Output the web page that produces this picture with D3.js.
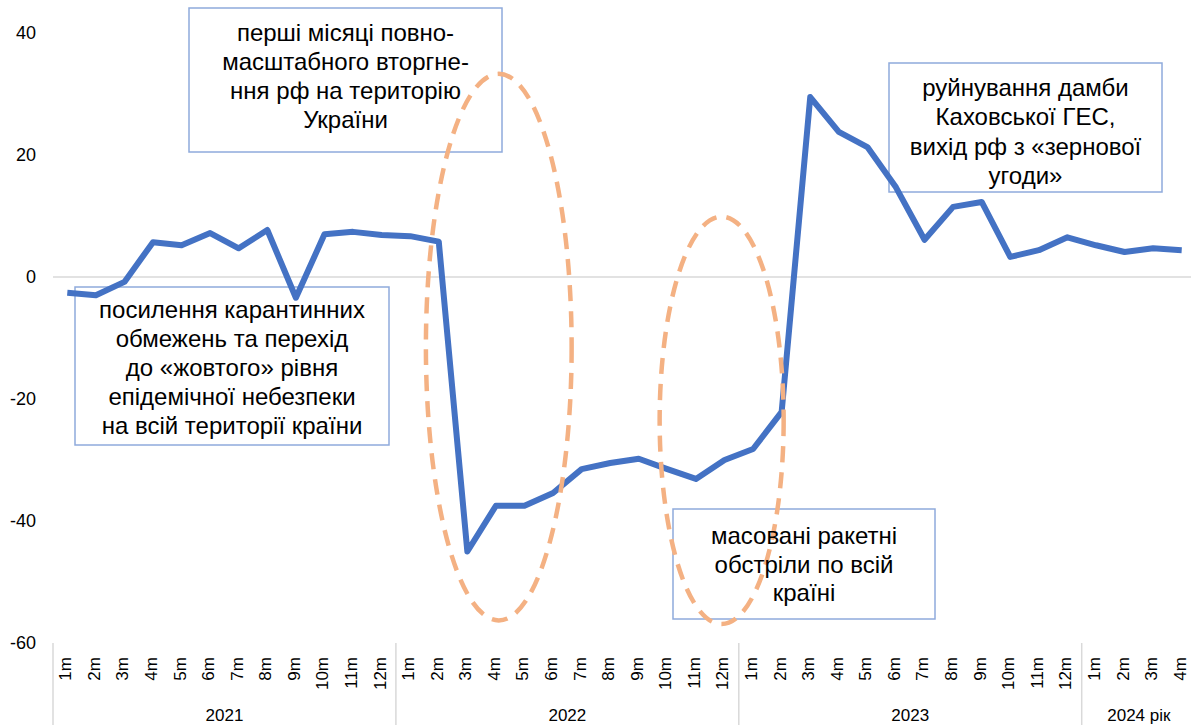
<!DOCTYPE html>
<html>
<head>
<meta charset="utf-8">
<script src="https://cdn.jsdelivr.net/npm/d3@7"></script>
<style>
  body { margin: 0; background: #fff; }
  text { font-family: Arial, "Liberation Sans", sans-serif; fill: #000; }
</style>
</head>
<body>
<div id="chart"></div>
<script>
// Data
var years = ["2021", "2022", "2023", "2024 рік"]
var monthsPerYear = [12, 12, 12, 4]
var values2021 = [-2.6, -3.0, -0.8, 5.7, 5.2, 7.2, 4.7, 7.7, -3.4, 7.0, 7.4, 6.9]
var values2022 = [6.7, 5.8, -45.0, -37.5, -37.5, -35.4, -31.5, -30.5, -29.8, -31.5, -33.1, -30.0]
var values2023 = [-28.2, -22.1, 29.5, 23.8, 21.3, 14.7, 6.1, 11.5, 12.3, 3.3, 4.4, 6.5]
var values2024 = [5.2, 4.1, 4.7, 4.4]
var yTicks = [40, 20, 0, -20, -40, -60]

var noteTexts = [
  ["перші місяці повно-", "масштабного вторгне-", "ння рф на територію", "України"],
  ["посилення карантинних", "обмежень та перехід", "до «жовтого» рівня", "епідемічної небезпеки", "на всій території країни"],
  ["руйнування дамби", "Каховської ГЕС,", "вихід рф з «зернової", "угоди»"],
  ["масовані ракетні", "обстріли по всій", "країні"]
]

// layout of the annotation boxes (px) and first text baseline
var noteBoxes = [
  {x: 189, y: 8, w: 313, h: 144, base: 41, lh: 29},
  {x: 75, y: 287, w: 314, h: 158, base: 318, lh: 29},
  {x: 889, y: 63, w: 273, h: 129, base: 96, lh: 29.3},
  {x: 673, y: 509, w: 262, h: 110, base: 544, lh: 28.7}
]
// dashed ellipses: centre in month index / value, radii in months / value units
var ovals = [
  {ci: 15.6, cv: -11.5, ri: 2.55, rv: 44.8},
  {ci: 23.4, cv: -23.5, ri: 2.17, rv: 33.4}
]

var series = values2021.concat(values2022, values2023, values2024)
var labels = []
monthsPerYear.forEach(function(n){
  for (var m = 1; m <= n; m++) labels.push(m + "m")
})

var width = 1191
var height = 725
var left = 53
var right = 1196
var top_y = 33
var bottom_y = 643

var svg = d3.select("#chart").append("svg")
    .attr("width", width)
    .attr("height", height)

var x = d3.scaleBand()
    .domain(d3.range(series.length))
    .range([left, right])
    .paddingInner(0).paddingOuter(0)

var xl = d3.scaleLinear()  // month index -> px, for separators / ovals
    .domain([0, series.length])
    .range([left, right])

var y = d3.scaleLinear()
    .domain([-60, 40])
    .range([bottom_y, top_y])

// zero line
svg.append("line")
    .attr("x1", left).attr("x2", width)
    .attr("y1", y(0)).attr("y2", y(0))
    .attr("stroke", "#d9d9d9").attr("stroke-width", 1.5)

// y axis labels (plain hyphen for minus, like the original)
var yAxis = d3.axisLeft(y).tickValues(yTicks).tickSize(0).tickPadding(0)
    .tickFormat(function(d){ return String(d) })
var gy = svg.append("g").attr("transform", "translate(36,0)").call(yAxis)
gy.select(".domain").remove()
gy.selectAll("text")
    .style("font-family", "Arial, 'Liberation Sans', sans-serif")
    .style("font-size", "18px")
    .attr("fill", "#000")

// x axis: month labels rotated
var xAxis = d3.axisBottom(x).tickFormat(function(d){ return labels[d] }).tickSize(0)
var gx = svg.append("g").attr("transform", "translate(0," + bottom_y + ")").call(xAxis)
gx.select(".domain").remove()
gx.selectAll("text")
    .attr("transform", "rotate(-90)")
    .attr("x", -14).attr("y", -2)
    .attr("dy", "0.35em")
    .attr("text-anchor", "end")
    .style("font-family", "Arial, 'Liberation Sans', sans-serif")
    .style("font-size", "17px")
    .attr("fill", "#000")

// year separators and year labels
var start = 0
var bounds = [0]
monthsPerYear.forEach(function(n){ start += n; bounds.push(start) })
svg.selectAll(".sep")
    .data(bounds.slice(0, 4))
    .enter().append("line")
    .attr("x1", function(d){ return xl(d) }).attr("x2", function(d){ return xl(d) })
    .attr("y1", bottom_y).attr("y2", height)
    .attr("stroke", "#d9d9d9").attr("stroke-width", 1.5)

svg.selectAll(".year")
    .data(years)
    .enter().append("text")
    .attr("x", function(d,i){ return (xl(bounds[i]) + xl(bounds[i+1])) / 2 })
    .attr("y", 721)
    .attr("text-anchor", "middle")
    .style("font-size", "17px")
    .text(function(d){ return d })

// boxes go under the line and ovals
svg.selectAll(".box")
    .data(noteBoxes)
    .enter().append("rect")
    .attr("x", function(d){ return d.x }).attr("y", function(d){ return d.y })
    .attr("width", function(d){ return d.w }).attr("height", function(d){ return d.h })
    .attr("fill", "#fff")
    .attr("stroke", "#8faadc")
    .attr("stroke-width", 1.5)

// the series line
var line = d3.line()
    .x(function(d,i){ return x(i) + x.bandwidth() / 2 })
    .y(function(d){ return y(d) })

svg.append("path")
    .datum(series)
    .attr("d", line)
    .attr("fill", "none")
    .attr("stroke", "#4472c4")
    .attr("stroke-width", 6)
    .attr("stroke-linejoin", "round")

// dashed ellipses
svg.selectAll(".oval")
    .data(ovals)
    .enter().append("ellipse")
    .attr("cx", function(d){ return xl(d.ci) })
    .attr("cy", function(d){ return y(d.cv) })
    .attr("rx", function(d){ return xl(d.ri) - xl(0) })
    .attr("ry", function(d){ return y(0) - y(d.rv) })
    .attr("fill", "none")
    .attr("stroke", "#f4b183")
    .attr("stroke-width", 4.5)
    .attr("stroke-dasharray", "16,10")

// annotation texts
noteBoxes.forEach(function(b, k){
  svg.append("g").selectAll("text")
      .data(noteTexts[k])
      .enter().append("text")
      .attr("x", b.x + b.w / 2)
      .attr("y", function(d,i){ return b.base + i * b.lh })
      .attr("text-anchor", "middle")
      .style("font-size", "24px")
      .text(function(d){ return d })
})
</script>
</body>
</html>
